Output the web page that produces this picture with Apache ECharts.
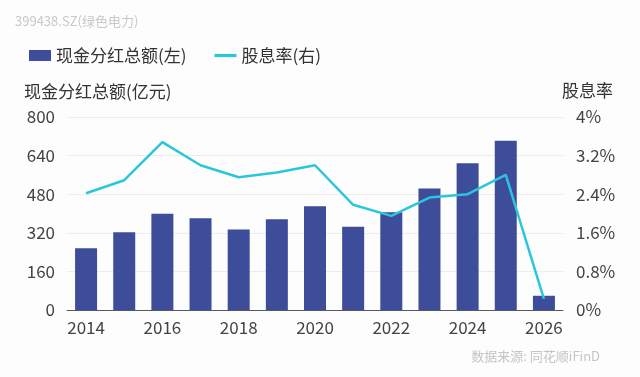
<!DOCTYPE html>
<html><head><meta charset="utf-8">
<script src="https://cdn.jsdelivr.net/npm/echarts@6/dist/echarts.min.js"></script>
<style>html,body{margin:0;padding:0;background:#fff}#c{width:640px;height:377px}</style>
</head><body><div id="c"></div>
<script>
const years = ['2014','2015','2016','2017','2018','2019','2020','2021','2022','2023','2024','2025','2026'];
const dividendTotal = [256, 322, 399, 380, 334, 376, 430, 345, 405, 504, 608, 702, 59];
const dividendYield = [2.42, 2.69, 3.48, 3.00, 2.75, 2.85, 3.00, 2.18, 1.95, 2.33, 2.40, 2.80, 0.23];
const leftName = '现金分红总额(亿元)';
const rightName = '股息率';
const barName = '现金分红总额(左)';
const lineName = '股息率(右)';
const titleText = '399438.SZ(绿色电力)';
const sourceText = '数据来源: 同花顺iFinD';

const font = '"Noto Sans CJK SC","Noto Sans",sans-serif';
const chart = echarts.init(document.getElementById('c'), null, {renderer:'canvas'});
chart.setOption({
  backgroundColor: '#fdfdfe',
  animation: false,
  textStyle: {fontFamily: font},
  title: {text: titleText, left: 10, top: 10, textStyle: {fontSize: 13, fontWeight: 'normal', color: '#c8c8cc', fontFamily: font}},
  graphic: [{type: 'text', right: 40, top: 350, style: {text: sourceText, fontSize: 13, fill: '#c4c4c8', fontFamily: font}}],
  legend: {
    left: 24, top: 42, itemGap: 28, itemWidth: 22, itemHeight: 11,
    textStyle: {fontSize: 17, color: '#333', fontFamily: font},
    data: [{name: barName, icon: 'rect'}, {name: lineName, icon: 'path://M0,0 H24 V3.5 H0 Z'}]
  },
  grid: {left: 67, right: 77, top: 117, bottom: 67},
  xAxis: {
    type: 'category', data: years, boundaryGap: true,
    axisLine: {lineStyle: {color: '#555a66', width: 1}},
    axisTick: {show: false},
    axisLabel: {interval: 1, fontSize: 17, color: '#444', margin: 9, fontFamily: font}
  },
  yAxis: [
    {type: 'value', min: 0, max: 800, interval: 160, name: leftName,
     nameLocation: 'end', nameGap: 17, nameTextStyle: {fontSize: 17, color: '#333', align: 'left', padding: [0,0,0,-43], fontFamily: font},
     axisLabel: {fontSize: 17, color: '#444', margin: 12, fontFamily: font},
     splitLine: {lineStyle: {color: '#ececf0'}}, axisLine: {show: false}, axisTick: {show: false}},
    {type: 'value', min: 0, max: 4, interval: 0.8, name: rightName,
     nameLocation: 'end', nameGap: 18, nameTextStyle: {fontSize: 17, color: '#333', align: 'right', padding: [0,-50,0,0], fontFamily: font},
     axisLabel: {fontSize: 17, color: '#444', margin: 13, fontFamily: font, formatter: v => (Math.round(v*10)/10) + '%'},
     splitLine: {show: false}, axisLine: {show: false}, axisTick: {show: false}}
  ],
  series: [
    {name: barName, type: 'bar', data: dividendTotal, yAxisIndex: 0, barWidth: 22,
     itemStyle: {color: '#3e4d99'}},
    {name: lineName, type: 'line', data: dividendYield, yAxisIndex: 1, symbol: 'none',
     lineStyle: {color: '#2cc6dc', width: 2.5}, itemStyle: {color: '#2cc6dc'}}
  ]
});
</script></body></html>
